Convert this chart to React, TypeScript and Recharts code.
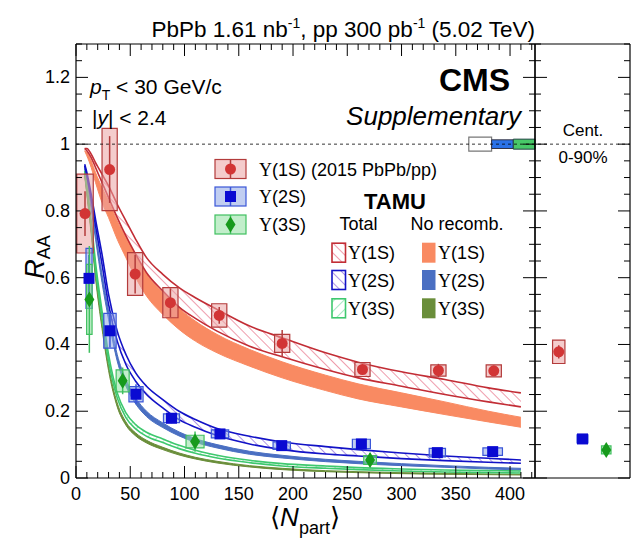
import React from "react";
import {
  ComposedChart,
  Area,
  Scatter,
  XAxis,
  YAxis,
  ReferenceLine,
  ReferenceArea,
  ErrorBar,
} from "recharts";

// TAMU model curves, sampled along <Npart>
const nPart = [8, 10, 14, 18, 24, 30, 38, 46, 55, 65, 80, 95, 110, 130, 160, 190, 230, 260, 300, 340, 380, 410];
const total1SHi = [0.987, 0.987, 0.97, 0.945, 0.91, 0.875, 0.82, 0.77, 0.715, 0.66, 0.61, 0.57, 0.54, 0.505, 0.455, 0.42, 0.375, 0.347, 0.318, 0.295, 0.27, 0.255];
const total1SLo = [0.987, 0.98, 0.96, 0.93, 0.885, 0.84, 0.78, 0.725, 0.67, 0.615, 0.56, 0.512, 0.478, 0.44, 0.395, 0.363, 0.325, 0.3, 0.275, 0.25, 0.228, 0.213];
const noRec1SHi = [0.98, 0.975, 0.95, 0.915, 0.87, 0.83, 0.77, 0.72, 0.665, 0.61, 0.555, 0.508, 0.47, 0.43, 0.385, 0.348, 0.308, 0.282, 0.255, 0.228, 0.2, 0.182];
const noRec1SLo = [0.98, 0.965, 0.93, 0.885, 0.825, 0.78, 0.715, 0.66, 0.6, 0.545, 0.49, 0.445, 0.41, 0.375, 0.335, 0.3, 0.262, 0.237, 0.213, 0.19, 0.168, 0.152];
const total2SHi = [0.94, 0.915, 0.85, 0.775, 0.67, 0.55, 0.44, 0.37, 0.315, 0.275, 0.235, 0.2, 0.175, 0.148, 0.125, 0.108, 0.094, 0.085, 0.075, 0.066, 0.059, 0.054];
const total2SLo = [0.935, 0.905, 0.835, 0.755, 0.64, 0.52, 0.41, 0.34, 0.29, 0.25, 0.21, 0.175, 0.152, 0.127, 0.102, 0.085, 0.072, 0.066, 0.058, 0.052, 0.047, 0.044];
const noRec2SHi = [0.93, 0.9, 0.82, 0.735, 0.61, 0.5, 0.37, 0.295, 0.24, 0.2, 0.165, 0.138, 0.118, 0.1, 0.08, 0.068, 0.056, 0.05, 0.043, 0.037, 0.032, 0.029];
const noRec2SLo = [0.925, 0.89, 0.805, 0.715, 0.585, 0.475, 0.35, 0.275, 0.222, 0.184, 0.151, 0.126, 0.107, 0.09, 0.071, 0.06, 0.049, 0.043, 0.037, 0.032, 0.027, 0.024];
const total3SHi = [0.92, 0.875, 0.77, 0.645, 0.5, 0.37, 0.255, 0.195, 0.16, 0.137, 0.117, 0.098, 0.083, 0.068, 0.053, 0.043, 0.036, 0.031, 0.027, 0.024, 0.022, 0.021];
const total3SLo = [0.915, 0.862, 0.752, 0.625, 0.478, 0.35, 0.24, 0.181, 0.147, 0.125, 0.106, 0.088, 0.074, 0.06, 0.046, 0.036, 0.029, 0.025, 0.021, 0.018, 0.016, 0.015];
const noRec3SHi = [0.91, 0.855, 0.74, 0.61, 0.46, 0.335, 0.225, 0.168, 0.135, 0.113, 0.092, 0.075, 0.062, 0.05, 0.037, 0.029, 0.022, 0.019, 0.016, 0.014, 0.012, 0.011];
const noRec3SLo = [0.905, 0.848, 0.73, 0.598, 0.447, 0.322, 0.213, 0.158, 0.126, 0.105, 0.085, 0.069, 0.057, 0.045, 0.033, 0.025, 0.019, 0.016, 0.013, 0.011, 0.01, 0.009];

// measured points: <Npart>, RAA, stat, syst, box half width
const y1sX = [8.3, 31, 54.5, 87, 132, 190, 264, 334, 385];
const y1sR = [0.792, 0.924, 0.611, 0.525, 0.487, 0.403, 0.325, 0.322, 0.321];
const y1sStat = [0.067, 0.1, 0.058, 0.043, 0.025, 0.04, 0.015, 0.02, 0.015];
const y1sSyst = [0.118, 0.123, 0.064, 0.045, 0.035, 0.027, 0.021, 0.017, 0.018];
const y1sHalfW = [7.6, 7, 7, 7, 7, 7, 7, 7, 7];

const y2sX = [12, 31.3, 55.3, 88, 132.7, 189.6, 263, 333, 384];
const y2sR = [0.598, 0.441, 0.251, 0.179, 0.132, 0.097, 0.102, 0.076, 0.079];
const y2sStat = [0.07, 0.05, 0.03, 0.015, 0.015, 0.012, 0.01, 0.012, 0.012];
const y2sSyst = [0.09, 0.052, 0.023, 0.013, 0.012, 0.011, 0.014, 0.013, 0.011];
const y2sHalfW = [2.8, 5.7, 6.5, 7.4, 8, 8, 8.3, 7.5, 9];

const y3sX = [12.3, 43, 109.7, 271];
const y3sR = [0.535, 0.291, 0.109, 0.054];
const y3sStat = [0.16, 0.04, 0.03, 0.02];
const y3sSyst = [0.105, 0.033, 0.019, 0.013];
const y3sHalfW = [2.5, 6, 8.3, 5.8];

// centrality integrated 0-90%
const intPos = [1, 2, 3];
const intR = [0.378, 0.117, 0.084];
const intStat = [0.02, 0.008, 0.012];
const intSyst = [0.035, 0.012, 0.012];
const intHalfW = [0.26, 0.23, 0.2];

// global uncertainties drawn at RAA = 1
const globalLo = [362, 383, 403];
const globalHi = [383, 403, 423];
const globalUnc = [0.021, 0.013, 0.015];

const X_MAX = 423;
const Y_MAX = 1.3;
const SIDE_MAX = 4;
const xTicks = [0, 10, 20, 30, 40, 50, 60, 70, 80, 90, 100, 110, 120, 130, 140, 150, 160, 170, 180, 190, 200, 210, 220, 230, 240, 250, 260, 270, 280, 290, 300, 310, 320, 330, 340, 350, 360, 370, 380, 390, 400, 410, 420];
const yTicks = [0, 0.05, 0.1, 0.15, 0.2, 0.25, 0.3, 0.35, 0.4, 0.45, 0.5, 0.55, 0.6, 0.65, 0.7, 0.75, 0.8, 0.85, 0.9, 0.95, 1, 1.05, 1.1, 1.15, 1.2, 1.25, 1.3];

const FONT = "'Liberation Sans', Arial, Helvetica, sans-serif";
const SERIF = "'Liberation Serif', 'Times New Roman', serif";

const C = {
  red: "#d23535",
  redBox: "#eba3a3",
  redEdge: "#b33b3b",
  redLine: "#c22d35",
  redHatch: "#e24a68",
  orange: "#f98a62",
  blue: "#0a0ad2",
  blueBox: "#8ea5e6",
  blueEdge: "#3a56d8",
  blueLine: "#1212c6",
  blueHatch: "#6a3ed6",
  steel: "#4a6fc2",
  green: "#179a1c",
  greenBox: "#8fe0a0",
  greenEdge: "#40c060",
  greenLine: "#3ec86e",
  greenHatch: "#5cd88e",
  olive: "#6a8e3a",
};

const curveData = nPart.map((x, i) => ({
  x,
  t1: [total1SLo[i], total1SHi[i]],
  n1: [noRec1SLo[i], noRec1SHi[i]],
  t2: [total2SLo[i], total2SHi[i]],
  n2: [noRec2SLo[i], noRec2SHi[i]],
  t3: [total3SLo[i], total3SHi[i]],
  n3: [noRec3SLo[i], noRec3SHi[i]],
}));

const toPoints = (xs: number[], rs: number[], stat: number[], syst: number[], hw: number[]) =>
  xs.map((x, i) => ({ x, y: rs[i], err: stat[i], syst: syst[i], hw: hw[i] }));

const pts1S = toPoints(y1sX, y1sR, y1sStat, y1sSyst, y1sHalfW);
const pts2S = toPoints(y2sX, y2sR, y2sStat, y2sSyst, y2sHalfW);
const pts3S = toPoints(y3sX, y3sR, y3sStat, y3sSyst, y3sHalfW);
const ptsInt = toPoints(intPos, intR, intStat, intSyst, intHalfW);

const isMajorX = (v: number) => v % 50 === 0;
const isMajorY = (v: number) => Math.abs(v * 5 - Math.round(v * 5)) < 1e-6;

const Circle = (p: any) => <circle cx={p.cx} cy={p.cy} r={5.5} fill={C.red} />;
const Square = (p: any) => <rect x={p.cx - 5.5} y={p.cy - 5.5} width={11} height={11} fill={C.blue} />;
const Diamond = (p: any) => (
  <polygon
    points={`${p.cx},${p.cy - 8} ${p.cx + 5},${p.cy} ${p.cx},${p.cy + 8} ${p.cx - 5},${p.cy}`}
    fill={C.green}
  />
);

const XLabel = (p: any) =>
  isMajorX(p.payload.value) ? (
    <text x={p.x} y={p.y + 22} textAnchor="middle" fontSize={18} fontFamily={FONT} fill="#000">
      {p.payload.value}
    </text>
  ) : (
    <g />
  );

const YLabel = (p: any) =>
  isMajorY(p.payload.value) ? (
    <text x={p.x - 6} y={p.y + 6} textAnchor="end" fontSize={18} fontFamily={FONT} fill="#000">
      {String(Math.round(p.payload.value * 10) / 10)}
    </text>
  ) : (
    <g />
  );

// geometry of the two panels (px)
const PLOT_LEFT = 76;
const PANEL_SPLIT = 535;
const PLOT_RIGHT = 630;
const KY = Y_MAX / 434;
const KX_MAIN = X_MAX / (PANEL_SPLIT - PLOT_LEFT);
const KX_SIDE = SIDE_MAX / (PLOT_RIGHT - PANEL_SPLIT);

// ROOT style frame: four edges with ticks pointing inwards, in data units of the given x axis
const frame = (axis: string, xMax: number, kx: number, xt: number[]) => {
  const out: any[] = [
    <ReferenceLine key={`${axis}-l`} xAxisId={axis} x={0} stroke="#000" strokeWidth={1.2} ifOverflow="visible" />,
    <ReferenceLine key={`${axis}-r`} xAxisId={axis} x={xMax} stroke="#000" strokeWidth={1.2} ifOverflow="visible" />,
    <ReferenceLine key={`${axis}-b`} xAxisId={axis} segment={[{ x: 0, y: 0 }, { x: xMax, y: 0 }]} stroke="#000" strokeWidth={1.2} ifOverflow="visible" />,
    <ReferenceLine key={`${axis}-t`} xAxisId={axis} segment={[{ x: 0, y: Y_MAX }, { x: xMax, y: Y_MAX }]} stroke="#000" strokeWidth={1.2} ifOverflow="visible" />,
  ];
  xt.forEach((v) => {
    const len = (isMajorX(v) ? 12 : 6) * KY;
    out.push(
      <ReferenceLine key={`${axis}-xb${v}`} xAxisId={axis} segment={[{ x: v, y: 0 }, { x: v, y: len }]} stroke="#000" ifOverflow="visible" />,
      <ReferenceLine key={`${axis}-xt${v}`} xAxisId={axis} segment={[{ x: v, y: Y_MAX }, { x: v, y: Y_MAX - len }]} stroke="#000" ifOverflow="visible" />
    );
  });
  yTicks.forEach((v) => {
    const len = (isMajorY(v) ? 12 : 6) * kx;
    out.push(
      <ReferenceLine key={`${axis}-yl${v}`} xAxisId={axis} segment={[{ x: 0, y: v }, { x: len, y: v }]} stroke="#000" ifOverflow="visible" />,
      <ReferenceLine key={`${axis}-yr${v}`} xAxisId={axis} segment={[{ x: xMax, y: v }, { x: xMax - len, y: v }]} stroke="#000" ifOverflow="visible" />
    );
  });
  return out;
};

const hatch = (id: string, color: string, angle: number) => (
  <pattern id={id} patternUnits="userSpaceOnUse" width={7} height={7} patternTransform={`rotate(${angle})`}>
    <line x1={0} y1={0} x2={0} y2={7} stroke={color} strokeWidth={1.1} />
  </pattern>
);

const boxes = (axis: string, pts: any[], fill: string, edge: string, key: string) =>
  pts.map((d, i) => (
    <ReferenceArea
      key={`${key}-${i}`}
      xAxisId={axis}
      x1={d.x - d.hw}
      x2={d.x + d.hw}
      y1={d.y - d.syst}
      y2={d.y + d.syst}
      fill={fill}
      fillOpacity={0.55}
      stroke={edge}
      strokeWidth={1.2}
    />
  ));

const series = (axis: string, pts: any[], shape: any, edge: string, key: string) => (
  <Scatter key={key} xAxisId={axis} data={pts} dataKey="y" shape={shape} isAnimationActive={false}>
    <ErrorBar dataKey="err" direction="y" width={0} stroke={edge} strokeWidth={1.5} />
  </Scatter>
);

function RaaChart() {
  return (
    <ComposedChart width={631} height={540} data={curveData} margin={{ top: 44, right: 631 - PLOT_RIGHT, bottom: 0, left: 0 }}>
      <defs>
        {hatch("h1S", C.redHatch, -45)}
        {hatch("h2S", C.blueHatch, -45)}
        {hatch("h3S", C.greenHatch, 45)}
      </defs>
      <XAxis
        xAxisId="main"
        dataKey="x"
        type="number"
        domain={[0, X_MAX]}
        padding={{ left: 0, right: PLOT_RIGHT - PANEL_SPLIT }}
        ticks={xTicks}
        interval={0}
        height={62}
        tickSize={0}
        tickMargin={0}
        tickLine={false}
        axisLine={false}
        tick={XLabel}
        allowDataOverflow
      />
      <XAxis
        xAxisId="side"
        dataKey="x"
        type="number"
        domain={[0, SIDE_MAX]}
        padding={{ left: PANEL_SPLIT - PLOT_LEFT, right: 0 }}
        hide
        allowDataOverflow
      />
      <YAxis
        type="number"
        domain={[0, Y_MAX]}
        ticks={yTicks}
        interval={0}
        width={PLOT_LEFT}
        tickSize={0}
        tickMargin={0}
        tickLine={false}
        axisLine={false}
        tick={YLabel}
        allowDataOverflow
      />

      {/* no recombination bands */}
      <Area xAxisId="main" dataKey="n3" type="monotone" fill={C.olive} fillOpacity={1} stroke={C.olive} strokeWidth={1} isAnimationActive={false} />
      <Area xAxisId="main" dataKey="n2" type="monotone" fill={C.steel} fillOpacity={1} stroke={C.steel} strokeWidth={1} isAnimationActive={false} />
      <Area xAxisId="main" dataKey="n1" type="monotone" fill={C.orange} fillOpacity={1} stroke={C.orange} strokeWidth={1} isAnimationActive={false} />

      {/* total (with regeneration) bands */}
      <Area xAxisId="main" dataKey="t3" type="monotone" fill="url(#h3S)" fillOpacity={1} stroke={C.greenLine} strokeWidth={1.6} isAnimationActive={false} />
      <Area xAxisId="main" dataKey="t2" type="monotone" fill="url(#h2S)" fillOpacity={1} stroke={C.blueLine} strokeWidth={1.6} isAnimationActive={false} />
      <Area xAxisId="main" dataKey="t1" type="monotone" fill="url(#h1S)" fillOpacity={1} stroke={C.redLine} strokeWidth={1.6} isAnimationActive={false} />

      {boxes("main", pts1S, C.redBox, C.redEdge, "b1")}
      {boxes("main", pts2S, C.blueBox, C.blueEdge, "b2")}
      {boxes("main", pts3S, C.greenBox, C.greenEdge, "b3")}
      {boxes("side", ptsInt.slice(0, 1), C.redBox, C.redEdge, "i1")}
      {boxes("side", ptsInt.slice(1, 2), C.blueBox, C.blueEdge, "i2")}
      {boxes("side", ptsInt.slice(2, 3), C.greenBox, C.greenEdge, "i3")}

      <ReferenceArea xAxisId="main" x1={globalLo[0]} x2={globalHi[0]} y1={1 - globalUnc[0]} y2={1 + globalUnc[0]} fill="#fff" fillOpacity={1} stroke="#777" strokeWidth={1.2} />
      <ReferenceArea xAxisId="main" x1={globalLo[1]} x2={globalHi[1]} y1={1 - globalUnc[1]} y2={1 + globalUnc[1]} fill="#2b72e8" fillOpacity={1} stroke="#334" strokeWidth={1} />
      <ReferenceArea xAxisId="main" x1={globalLo[2]} x2={globalHi[2]} y1={1 - globalUnc[2]} y2={1 + globalUnc[2]} fill="#48c868" fillOpacity={1} stroke="#244" strokeWidth={1} />
      <ReferenceLine xAxisId="main" y={1} stroke="#000" strokeDasharray="3 3" strokeWidth={0.8} />

      {frame("main", X_MAX, KX_MAIN, xTicks)}
      {frame("side", SIDE_MAX, KX_SIDE, [])}

      {series("main", pts1S, Circle, C.redEdge, "s1")}
      {series("main", pts2S, Square, C.blueEdge, "s2")}
      {series("main", pts3S, Diamond, C.greenEdge, "s3")}
      {series("side", ptsInt.slice(0, 1), Circle, C.redEdge, "si1")}
      {series("side", ptsInt.slice(1, 2), Square, C.blueEdge, "si2")}
      {series("side", ptsInt.slice(2, 3), Diamond, C.greenEdge, "si3")}
    </ComposedChart>
  );
}

const dataLegend = [
  { label: "(1S) (2015 PbPb/pp)", fill: C.redBox, edge: C.redEdge, mark: "circle" },
  { label: "(2S)", fill: C.blueBox, edge: C.blueEdge, mark: "square" },
  { label: "(3S)", fill: C.greenBox, edge: C.greenEdge, mark: "diamond" },
];
const modelLegend = [
  { label: "(1S)", hatch: "lh1S", line: C.redLine, solid: C.orange },
  { label: "(2S)", hatch: "lh2S", line: C.blueLine, solid: C.steel },
  { label: "(3S)", hatch: "lh3S", line: C.greenLine, solid: C.olive },
];

function Overlay() {
  const rowY = [169, 196.5, 224.5];
  const modelY = [252.7, 280, 308.3];
  return (
    <svg width={631} height={540} style={{ position: "absolute", left: 0, top: 0, pointerEvents: "none" }}>
      <defs>
        {hatch("lh1S", C.redHatch, -45)}
        {hatch("lh2S", C.blueHatch, -45)}
        {hatch("lh3S", C.greenHatch, 45)}
      </defs>
      <text x={535} y={37} textAnchor="end" fontSize={22.5} fontFamily={FONT}>
        PbPb 1.61 nb<tspan dy={-9} fontSize={14}>-1</tspan>
        <tspan dy={9}>, pp 300 pb</tspan>
        <tspan dy={-9} fontSize={14}>-1</tspan>
        <tspan dy={9}> (5.02 TeV)</tspan>
      </text>
      <text x={510} y={91} textAnchor="end" fontSize={32} fontWeight="bold" fontFamily={FONT}>
        CMS
      </text>
      <text x={521} y={125} textAnchor="end" fontSize={26} fontStyle="italic" fontFamily={FONT}>
        Supplementary
      </text>
      <text x={90} y={94} fontSize={21} fontFamily={FONT}>
        <tspan fontStyle="italic">p</tspan>
        <tspan dy={6} fontSize={14}>T</tspan>
        <tspan dy={-6}> &lt; 30 GeV/c</tspan>
      </text>
      <text x={92} y={125} fontSize={21} fontFamily={FONT}>
        |<tspan fontStyle="italic">y</tspan>| &lt; 2.4
      </text>

      {dataLegend.map((d, i) => {
        const cy = rowY[i];
        const cx = 230.5;
        return (
          <g key={d.label}>
            <rect x={215} y={cy - 9.5} width={31} height={19} fill={d.fill} fillOpacity={0.55} stroke={d.edge} strokeWidth={1.2} />
            <line x1={cx} x2={cx} y1={cy - 9.5} y2={cy + 9.5} stroke={d.edge} strokeWidth={1.5} />
            {d.mark === "circle" && <circle cx={cx} cy={cy} r={5.5} fill={C.red} />}
            {d.mark === "square" && <rect x={cx - 5.5} y={cy - 5.5} width={11} height={11} fill={C.blue} />}
            {d.mark === "diamond" && (
              <polygon points={`${cx},${cy - 8} ${cx + 5},${cy} ${cx},${cy + 8} ${cx - 5},${cy}`} fill={C.green} />
            )}
            <text x={259} y={cy + 6.5} fontSize={18} fontFamily={FONT}>
              <tspan fontFamily={SERIF}>Υ</tspan>
              {d.label}
            </text>
          </g>
        );
      })}

      <text x={395} y={209} textAnchor="middle" fontSize={22} fontWeight="bold" fontFamily={FONT}>
        TAMU
      </text>
      <text x={358.5} y={229.5} textAnchor="middle" fontSize={18} fontFamily={FONT}>
        Total
      </text>
      <text x={457} y={229.5} textAnchor="middle" fontSize={18} fontFamily={FONT}>
        No recomb.
      </text>
      {modelLegend.map((m, i) => {
        const cy = modelY[i];
        return (
          <g key={m.label}>
            <rect x={332} y={cy - 9.5} width={13.5} height={19} fill={`url(#${m.hatch})`} stroke={m.line} strokeWidth={1.6} />
            <text x={348} y={cy + 6.5} fontSize={18} fontFamily={FONT}>
              <tspan fontFamily={SERIF}>Υ</tspan>
              {m.label}
            </text>
            <rect x={422} y={cy - 10} width={13.5} height={20} fill={m.solid} />
            <text x={438} y={cy + 6.5} fontSize={18} fontFamily={FONT}>
              <tspan fontFamily={SERIF}>Υ</tspan>
              {m.label}
            </text>
          </g>
        );
      })}

      <text x={583} y={136} textAnchor="middle" fontSize={17} fontFamily={FONT}>
        Cent.
      </text>
      <text x={583} y={163} textAnchor="middle" fontSize={17} fontFamily={FONT}>
        0-90%
      </text>

      <text x={44} y={257} transform="rotate(-90 44 257)" textAnchor="middle" fontFamily={FONT}>
        <tspan fontSize={27} fontStyle="italic">R</tspan>
        <tspan fontSize={18} dy={6}>AA</tspan>
      </text>
      <text x={305} y={526} textAnchor="middle" fontFamily={"'Liberation Sans', 'DejaVu Sans', sans-serif"}>
        <tspan fontSize={26}>{"\u27E8"}</tspan>
        <tspan fontSize={26} fontStyle="italic">N</tspan>
        <tspan fontSize={18} dy={8}>part</tspan>
        <tspan fontSize={26} dy={-8}>{"\u27E9"}</tspan>
      </text>
    </svg>
  );
}

export default function App() {
  return (
    <div style={{ position: "absolute", left: 0, top: 0, width: 631, height: 540, background: "#fff", overflow: "hidden" }}>
      <RaaChart />
      <Overlay />
    </div>
  );
}
